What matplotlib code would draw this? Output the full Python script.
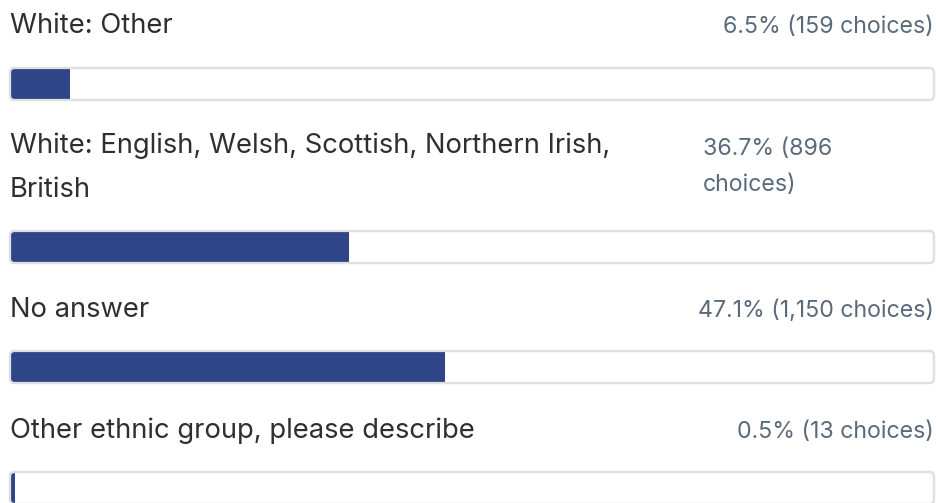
import matplotlib
matplotlib.use("Agg")
import matplotlib.pyplot as plt
from matplotlib.patches import FancyBboxPatch

labels = [["White: Other"],
          ["White: English, Welsh, Scottish, Northern Irish,", "British"],
          ["No answer"],
          ["Other ethnic group, please describe"]]
percents = [6.5, 36.7, 47.1, 0.5]
pct_texts = [["6.5% (159 choices)"], ["36.7% (896", "choices)"],
             ["47.1% (1,150 choices)"], ["0.5% (13 choices)"]]

W, H = 936, 503
fig = plt.figure(figsize=(W / 100, H / 100), dpi=100)
ax = fig.add_axes([0, 0, 1, 1])
scale = 9.24  # px per percent
x0 = 10
ax.set_xlim(-x0 / scale, (W - x0) / scale)
ax.set_ylim(H, 0)
ax.axis("off")

def px2x(px):
    return (px - x0) / scale

bar_tops = [68, 231, 351, 472]
label_base = [[33], [153, 197], [317], [438]]
pct_base = [[33], [155, 191], [317], [438]]
bar_h = 32
fill_color = "#2e4587"
track_color = "#e0e0e0"
label_color = "#2f2f2f"
pct_color = "#5a6a7b"
font = "Inter"
label_size = 19.7
pct_size = 16.7

for i, p in enumerate(percents):
    top = bar_tops[i]
    track = FancyBboxPatch((0, top), 100, bar_h,
                           boxstyle="round,pad=0,rounding_size=0.5",
                           mutation_aspect=scale,
                           facecolor="white", edgecolor=track_color,
                           linewidth=1.6, zorder=1)
    ax.add_patch(track)
    bars = ax.barh([top + bar_h / 2], [p], height=bar_h, left=0,
                   color=fill_color, zorder=2)
    for b in bars:
        b.set_clip_path(track)
    outline = FancyBboxPatch((0, top), 100, bar_h,
                             boxstyle="round,pad=0,rounding_size=0.5",
                             mutation_aspect=scale,
                             facecolor="none", edgecolor=track_color,
                             linewidth=1.6, zorder=3)
    ax.add_patch(outline)

    for line, yb in zip(labels[i], label_base[i]):
        ax.text(px2x(10), yb, line, fontsize=label_size, color=label_color,
                family=font, ha="left", va="baseline")
    pts = pct_texts[i]
    if len(pts) > 1:
        for line, yb in zip(pts, pct_base[i]):
            ax.text(px2x(703), yb, line, fontsize=pct_size, color=pct_color,
                    family=font, ha="left", va="baseline")
    else:
        ax.text(px2x(934), pct_base[i][0], pts[0], fontsize=pct_size,
                color=pct_color, family=font, ha="right", va="baseline")

fig.savefig("out.png", dpi=100)
